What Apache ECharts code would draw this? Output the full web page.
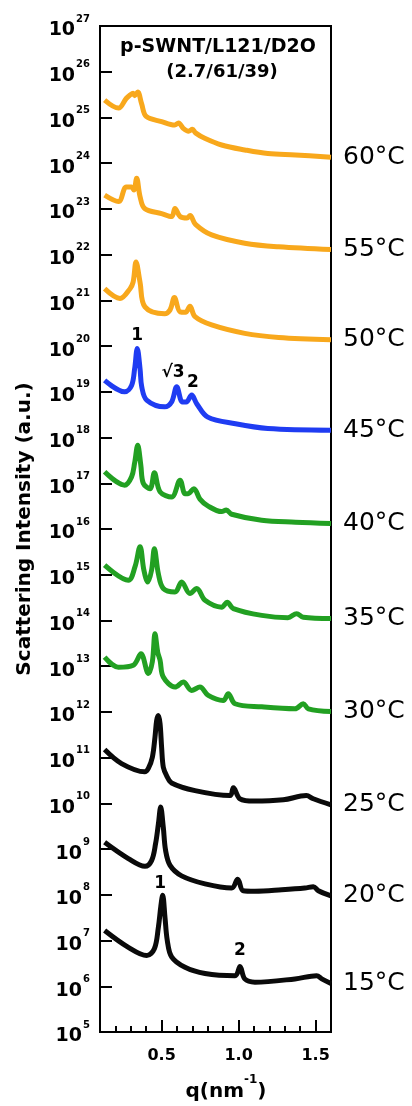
<!DOCTYPE html>
<html>
<head>
<meta charset="utf-8">
<script src="https://cdn.jsdelivr.net/npm/echarts@6/dist/echarts.min.js"></script>
<style>
  html, body { margin: 0; background: #fff; }
  #saxs { width: 412px; height: 1106px; }
</style>
</head>
<body>
<div id="saxs"></div>
<script>
// q (nm^-1) / intensity (a.u.) pairs, one array per temperature
const t60 = [[0.13,2.4e25],[0.22,1.6e25],[0.27,2.6e25],[0.295,3.1e25],[0.315,3.4e25],[0.325,3.0e25],[0.345,3.6e25],[0.37,2.0e25],[0.40,1.05e25],[0.50,8.1e24],[0.585,6.8e24],[0.61,7.6e24],[0.64,5.8e24],[0.675,5.0e24],[0.70,5.5e24],[0.72,4.6e24],[0.78,3.5e24],[0.89,2.5e24],[1.04,1.95e24],[1.19,1.62e24],[1.37,1.51e24],[1.60,1.35e24]];
const t55 = [[0.13,2.0e23],[0.22,1.45e23],[0.27,3.0e23],[0.305,3.0e23],[0.32,2.6e23],[0.338,4.7e23],[0.36,1.86e23],[0.39,1.02e23],[0.50,7.9e22],[0.565,6.8e22],[0.587,1.02e23],[0.62,6.8e22],[0.665,6.3e22],[0.685,7.2e22],[0.72,4.6e22],[0.825,2.7e22],[1.04,1.78e22],[1.26,1.48e22],[1.60,1.29e22]];
const t50 = [[0.13,1.8e21],[0.23,1.1e21],[0.295,1.8e21],[0.315,2.5e21],[0.334,6.9e21],[0.36,2.5e21],[0.392,7.2e20],[0.52,5.1e20],[0.555,6.2e20],[0.583,1.15e21],[0.62,5.6e20],[0.655,5.5e20],[0.684,7.4e20],[0.717,4.4e20],[0.825,2.9e20],[1.04,1.9e20],[1.26,1.55e20],[1.60,1.38e20]];
const t45 = [[0.13,1.78e19],[0.26,1.0e19],[0.305,1.38e19],[0.325,3.2e19],[0.342,8.9e19],[0.36,3.2e19],[0.371,1.29e19],[0.403,6.6e18],[0.52,4.7e18],[0.565,6.0e18],[0.598,1.29e19],[0.635,6.0e18],[0.66,6.0e18],[0.695,8.5e18],[0.728,5.5e18],[0.80,2.8e18],[0.98,2.0e18],[1.19,1.58e18],[1.60,1.45e18]];
const t40 = [[0.13,1.78e17],[0.26,9.1e16],[0.305,1.38e17],[0.325,2.8e17],[0.345,6.8e17],[0.365,2.5e17],[0.381,1.0e17],[0.425,7.6e16],[0.453,1.7e17],[0.49,6.5e16],[0.565,5.0e16],[0.62,1.17e17],[0.652,5.9e16],[0.67,5.9e16],[0.71,7.6e16],[0.749,4.5e16],[0.80,3.2e16],[0.89,2.4e16],[0.92,2.6e16],[0.955,2.1e16],[1.15,1.55e16],[1.37,1.41e16],[1.60,1.32e16]];
const t35 = [[0.13,1.62e15],[0.284,7.6e14],[0.327,1.48e15],[0.36,4.1e15],[0.385,1.26e15],[0.41,6.9e14],[0.435,1.26e15],[0.453,3.7e15],[0.479,1.05e15],[0.511,5.0e14],[0.587,4.2e14],[0.63,6.9e14],[0.684,3.9e14],[0.728,5.0e14],[0.782,2.75e14],[0.89,1.95e14],[0.926,2.5e14],[0.966,1.82e14],[1.15,1.29e14],[1.32,1.15e14],[1.377,1.41e14],[1.42,1.17e14],[1.60,1.1e14]];
const t30 = [[0.13,1.58e13],[0.22,9.5e12],[0.316,1.05e13],[0.366,1.86e13],[0.414,6.9e12],[0.44,1.26e13],[0.457,5.1e13],[0.475,2.0e13],[0.49,1.35e13],[0.511,5.8e12],[0.587,3.5e12],[0.641,4.5e12],[0.695,2.95e12],[0.749,3.5e12],[0.803,2.3e12],[0.90,1.78e12],[0.933,2.5e12],[0.977,1.51e12],[1.15,1.29e12],[1.366,1.17e12],[1.42,1.51e12],[1.453,1.17e12],[1.60,1.02e12]];
const t25 = [[0.13,1.5e11],[0.24,7.4e10],[0.39,4.9e10],[0.414,5.8e10],[0.44,1.02e11],[0.457,2.8e11],[0.468,6.5e11],[0.479,8.3e11],[0.49,5.5e11],[0.50,1.7e11],[0.511,6.2e10],[0.533,4.0e10],[0.565,2.8e10],[0.717,1.9e10],[0.944,1.48e10],[0.966,2.2e10],[1.009,1.26e10],[1.10,1.12e10],[1.29,1.2e10],[1.44,1.48e10],[1.485,1.26e10],[1.60,9.3e9]];
const t20 = [[0.13,1.41e9],[0.284,6.2e8],[0.392,4.2e8],[0.435,5.6e8],[0.461,1.32e9],[0.479,3.5e9],[0.494,8.3e9],[0.511,3.0e9],[0.526,9.3e8],[0.555,4.4e8],[0.63,2.6e8],[0.782,1.74e8],[0.955,1.41e8],[0.994,2.2e8],[1.03,1.23e8],[1.106,1.2e8],[1.28,1.29e8],[1.43,1.41e8],[1.485,1.51e8],[1.518,1.23e8],[1.60,9.5e7]];
const t15 = [[0.13,1.66e7],[0.284,7.1e6],[0.403,4.7e6],[0.453,6.6e6],[0.479,1.95e7],[0.495,5.6e7],[0.507,9.8e7],[0.522,3.2e7],[0.537,1.0e7],[0.565,4.4e6],[0.652,2.6e6],[0.782,1.9e6],[0.977,1.7e6],[1.009,2.7e6],[1.04,1.45e6],[1.106,1.23e6],[1.366,1.45e6],[1.507,1.7e6],[1.54,1.45e6],[1.60,1.15e6]];

const tempLabels = ['60\u00b0C','55\u00b0C','50\u00b0C','45\u00b0C','40\u00b0C','35\u00b0C','30\u00b0C','25\u00b0C','20\u00b0C','15\u00b0C'];
const xMajorTicks = [0.5, 1.0, 1.5];
const xMinorTicks = [0.2, 0.3, 0.4, 0.6, 0.7, 0.8, 0.9, 1.1, 1.2, 1.3, 1.4, 1.6];
// peak index labels [q, intensity, text]
const peakNotes = [[0.342, 1.7e20, '1'], [0.574, 2.7e19, '\u221a3'], [0.704, 1.6e19, '2'], [0.49, 1.8e8, '1'], [1.009, 6.0e6, '2']];

const ORANGE = '#f8a81c', BLUE = '#1f3cf2', GREEN = '#22a022', BLACK = '#0a0a0a';
const curveData = [t60, t55, t50, t45, t40, t35, t30, t25, t20, t15];
const curveColor = [ORANGE, ORANGE, ORANGE, BLUE, GREEN, GREEN, GREEN, BLACK, BLACK, BLACK];
const FONT = 'DejaVu Sans';

const chart = echarts.init(document.getElementById('saxs'));

const series = curveData.map((d, i) => ({
  name: tempLabels[i],
  type: 'line',
  data: d,
  smooth: 0.35,
  showSymbol: false,
  lineStyle: { color: curveColor[i], width: 5 },
  itemStyle: { color: curveColor[i] },
  endLabel: {
    show: true,
    formatter: tempLabels[i],
    color: '#000',
    fontFamily: FONT,
    fontSize: 25,
    distance: 12
  }
}));

chart.setOption({
  animation: false,
  grid: { left: 100, right: 81, top: 26, bottom: 74, show: true, borderColor: '#000', borderWidth: 2 },
  xAxis: [
    {
      type: 'value', min: 0.1, max: 1.6,
      splitLine: { show: false },
      axisLine: { lineStyle: { color: '#000', width: 2 } },
      axisTick: { inside: true, length: 12, customValues: xMajorTicks, lineStyle: { color: '#000', width: 2 } },
      axisLabel: {
        customValues: xMajorTicks, margin: 16,
        formatter: v => v.toFixed(1),
        color: '#000', fontFamily: FONT, fontWeight: 'bold', fontSize: 16
      }
    },
    {
      type: 'value', min: 0.1, max: 1.6, position: 'bottom',
      splitLine: { show: false },
      axisLine: { show: false },
      axisTick: { inside: true, length: 6, customValues: xMinorTicks, lineStyle: { color: '#000', width: 2 } },
      axisLabel: { show: false }
    }
  ],
  yAxis: {
    type: 'log', logBase: 10, min: 1e5, max: 1e27, interval: 1,
    splitLine: { show: false },
    axisLine: { lineStyle: { color: '#000', width: 2 } },
    axisTick: { inside: true, length: 12, lineStyle: { color: '#000', width: 2 } },
    axisLabel: {
      margin: 10,
      formatter: v => '{b|10}{s|' + Math.round(Math.log10(v)) + '}',
      rich: {
        b: { fontFamily: FONT, fontWeight: 'bold', fontSize: 19, color: '#000', lineHeight: 28, verticalAlign: 'bottom' },
        s: { fontFamily: FONT, fontWeight: 'bold', fontSize: 10, color: '#000', lineHeight: 28, verticalAlign: 'top', padding: [2, 0, 0, 1] }
      }
    }
  },
  series: series
});

// texts: title block, axis names, peak indices placed through the chart scales
const notes = peakNotes.map(n => {
  const p = chart.convertToPixel({ gridIndex: 0 }, [n[0], n[1]]);
  return {
    type: 'text', x: p[0], y: p[1],
    style: { text: n[2], align: 'center', verticalAlign: 'middle', font: 'bold 17px "DejaVu Sans"', fill: '#000' }
  };
});

chart.setOption({
  graphic: [
    { type: 'text', x: 218, y: 47, style: { text: 'p-SWNT/L121/D2O', align: 'center', verticalAlign: 'middle', font: 'bold 19px "DejaVu Sans"', fill: '#000' } },
    { type: 'text', x: 222, y: 72, style: { text: '(2.7/61/39)', align: 'center', verticalAlign: 'middle', font: 'bold 18px "DejaVu Sans"', fill: '#000' } },
    { type: 'text', x: 25, y: 529, rotation: Math.PI / 2, style: { text: 'Scattering Intensity (a.u.)', align: 'center', verticalAlign: 'middle', font: 'bold 20px "DejaVu Sans"', fill: '#000' } },
    {
      type: 'text', x: 226, y: 1088,
      style: {
        text: '{b|q(nm}{s|-1}{b|)}', align: 'center', verticalAlign: 'middle',
        rich: {
          b: { fontFamily: FONT, fontWeight: 'bold', fontSize: 20, fill: '#000', lineHeight: 28, verticalAlign: 'bottom' },
          s: { fontFamily: FONT, fontWeight: 'bold', fontSize: 12, fill: '#000', lineHeight: 28, verticalAlign: 'top' }
        }
      }
    }
  ].concat(notes)
});
</script>
</body>
</html>
